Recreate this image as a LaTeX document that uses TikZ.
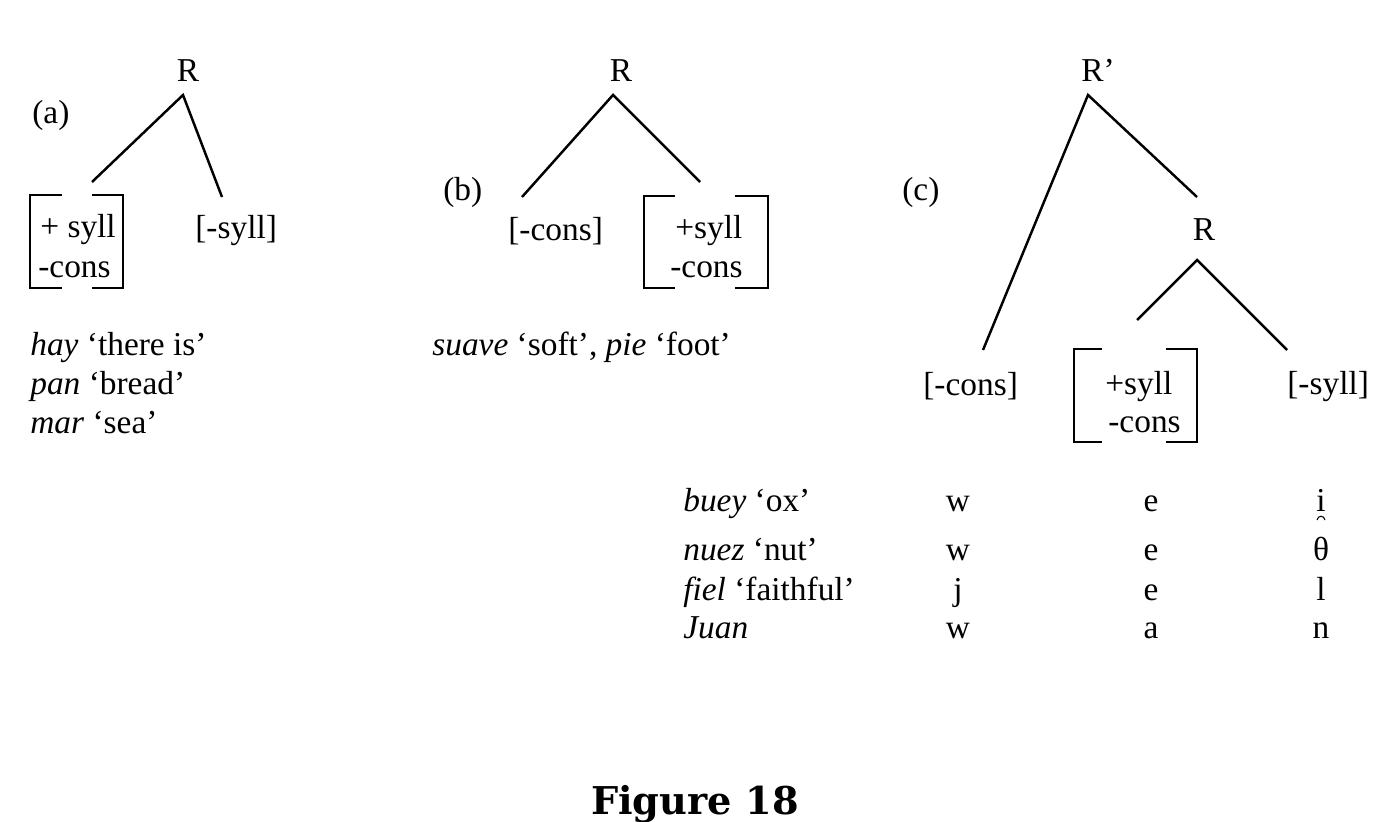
\documentclass[tikz,border=0pt]{standalone}
\usepackage{fontspec}
\setmainfont{Liberation Serif}
\newfontfamily\figfont{DejaVu Serif}
\usetikzlibrary{calc}
\newcommand{\fs}{\fontsize{19}{23}\selectfont}
\newcommand{\FeatBox}[6]{
	\def\lbx{#1}
	\def\rbx{#2}
	\def\tbx{#3}
	\def\bbx{#4}
	\def\lgap{#5}
	\def\rgap{#6}
	\draw[brk] (\lgap,\tbx) -- (\lbx,\tbx) -- (\lbx,\bbx) -- (\lgap,\bbx);
	\draw[brk] (\rgap,\tbx) -- (\rbx,\tbx) -- (\rbx,\bbx) -- (\rgap,\bbx);
}
\tikzset{
	tree/.style={line width=1.4pt},
	brk/.style={line width=0.85pt, line join=miter},
	txt/.style={inner sep=0pt, anchor=base west, font=\fs},
	ctr/.style={inner sep=0pt, anchor=base, font=\fs}
}

\begin{document}
\begin{tikzpicture}[x=0.02cm, y=-0.02cm]
  \useasboundingbox (0,0) rectangle (1381,821);

  % (a)
  \node[ctr] (Ra) at (188,82) {R};
  \node[txt] (labA) at (32,123) {(a)};
  \node[txt] (syllA) at (40,237) {+ syll};
  \node[txt] (consA) at (38,277) {-cons};
  \node[txt] (nsyllA) at (195,238) {[-syll]};
  \coordinate (topA) at (183,95);
  \coordinate (lA) at (92,182);
  \coordinate (rA) at (222,197);
  \draw[tree] (lA) -- (topA) -- (rA);
  \FeatBox{30}{123}{195}{288}{62}{92}

  \node[txt] (hay) at (30,355) {\textit{hay} ‘there is’};
  \node[txt] (pan) at (30,394) {\textit{pan} ‘bread’};
  \node[txt] (mar) at (30,433) {\textit{mar} ‘sea’};

  % (b)
  \node[ctr] (Rb) at (621,82) {R};
  \node[txt] (labB) at (443,200) {(b)};
  \node[txt] (nconsB) at (508,240) {[-cons]};
  \node[txt] (syllB) at (675,238) {+syll};
  \node[txt] (consB) at (670,277) {-cons};
  \coordinate (topB) at (613,95);
  \coordinate (lB) at (522,197);
  \coordinate (rB) at (700,182);
  \draw[tree] (lB) -- (topB) -- (rB);
  \FeatBox{644}{768}{196}{288}{675}{735}

  \node[txt] (suave) at (432,355) {\textit{suave} ‘soft’, \textit{pie} ‘foot’};

  % (c)
  \node[ctr] (Rc) at (1098,82) {R’};
  \node[txt] (labC) at (902,200) {(c)};
  \node[ctr] (Rd) at (1204,240) {R};
  \node[txt] (nconsC) at (923,395) {[-cons]};
  \node[txt] (syllC) at (1105,394) {+syll};
  \node[txt] (consC) at (1108,432) {-cons};
  \node[txt] (nsyllC) at (1287,394) {[-syll]};
  \coordinate (topC) at (1088,95);
  \coordinate (lC) at (983,350);
  \coordinate (rC) at (1197,197);
  \coordinate (topD) at (1197,260);
  \coordinate (lD) at (1137,320);
  \coordinate (rD) at (1287,350);
  \draw[tree] (lC) -- (topC) -- (rC);
  \draw[tree] (lD) -- (topD) -- (rD);
  \FeatBox{1074}{1197}{349}{442}{1102}{1166}

  % words
  \node[txt] (buey) at (683,511) {\textit{buey} ‘ox’};
  \node[txt] (nuez) at (683,560) {\textit{nuez} ‘nut’};
  \node[txt] (fiel) at (683,600) {\textit{fiel} ‘faithful’};
  \node[txt] (juan) at (683,638) {\textit{Juan}};
  \node[ctr] (g1a) at (958,511) {w};
  \node[ctr] (g1b) at (1151,511) {e};
  \node[ctr] (g1c) at (1321,511) {i};
  \node[ctr] (g2a) at (958,560) {w};
  \node[ctr] (g2b) at (1151,560) {e};
  \node[ctr] (g2c) at (1321,560) {θ};
  \node[ctr] (g3a) at (958,600) {j};
  \node[ctr] (g3b) at (1151,600) {e};
  \node[ctr] (g3c) at (1321,600) {l};
  \node[ctr] (g4a) at (958,638) {w};
  \node[ctr] (g4b) at (1151,638) {a};
  \node[ctr] (g4c) at (1321,638) {n};
  \draw[line width=0.6pt] ($(g1c.base)+(-4,9)$) .. controls ($(g1c.base)+(-3,4)$) and ($(g1c.base)+(3,4)$) .. ($(g1c.base)+(4,9)$);

  \node[inner sep=0pt, anchor=base, font=\figfont\bfseries\fontsize{21.8}{26}\selectfont] (fig) at (695,814) {Figure 18};
\end{tikzpicture}
\end{document}
